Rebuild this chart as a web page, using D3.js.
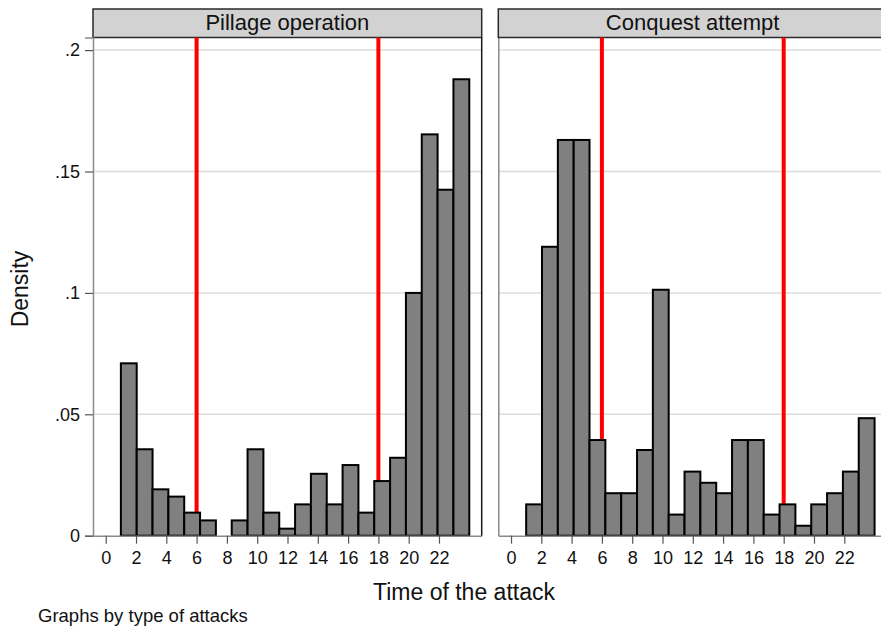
<!DOCTYPE html>
<html>
<head>
<meta charset="utf-8">
<script src="https://cdn.jsdelivr.net/npm/d3@7"></script>
<style>
  body { margin: 0; background: #fff; }
  svg { display: block; font-family: "Liberation Sans", Arial, sans-serif; }
</style>
</head>
<body>
<svg id="chart"></svg>
<script>
// histogram bins: 22 bins starting at hour 1
const binStart = 1;
const binWidth = 23 / 22;

const panelTitles = ["Pillage operation", "Conquest attempt"];

const pillageDensity = [0.0710, 0.0356, 0.0191, 0.0161, 0.0095, 0.0063, 0, 0.0063, 0.0356, 0.0095, 0.0029,
                        0.0129, 0.0255, 0.0129, 0.0291, 0.0095, 0.0225, 0.0321, 0.1000, 0.1653, 0.1425, 0.1880];
const conquestDensity = [0.0129, 0.1190, 0.1630, 0.1630, 0.0394, 0.0175, 0.0175, 0.0353, 0.1013, 0.0087, 0.0264,
                         0.0218, 0.0175, 0.0394, 0.0394, 0.0087, 0.0129, 0.0041, 0.0129, 0.0175, 0.0264, 0.0484];

const cutoffHours = [6, 18];
const xTicks = [0, 2, 4, 6, 8, 10, 12, 14, 16, 18, 20, 22];
const yTicks = [0, 0.05, 0.1, 0.15, 0.2];

const xTitle = "Time of the attack";
const yTitle = "Density";
const note = "Graphs by type of attacks";

class HistPanel {

  constructor(_config, _data) {
    this.config = {
      parentElement: _config.parentElement,
      left: _config.left,
      top: _config.top || 37.5,
      width: _config.width || 388.7,
      height: _config.height || 498.2,
      title: _config.title,
      showYLabels: _config.showYLabels
    }
    this.data = _data;
    this.initVis();
  }

  initVis() {
    let vis = this;
    let cfg = vis.config;

    vis.g = cfg.parentElement.append('g')
        .attr('transform', `translate(${cfg.left},${cfg.top})`);

    vis.xScale = d3.scaleLinear()
        .domain([-0.84, 24.82])
        .range([0, cfg.width]);

    vis.yScale = d3.scaleLinear()
        .domain([0, 0.2052])
        .range([cfg.height, 0]);

    // header strip
    vis.g.append('rect')
        .attr('x', 0)
        .attr('y', -28.5)
        .attr('width', cfg.width)
        .attr('height', 28.5)
        .attr('fill', '#d2d2d2')
        .attr('stroke', '#2a2a2a')
        .attr('stroke-width', 1.5);

    vis.g.append('text')
        .attr('x', cfg.width / 2)
        .attr('y', -8)
        .attr('text-anchor', 'middle')
        .style('font-size', '22px')
        .attr('fill', '#111')
        .text(cfg.title);

    // gridlines
    vis.g.selectAll('.grid')
        .data(yTicks.filter(d => d > 0))
        .join('line')
          .attr('class', 'grid')
          .attr('x1', 0)
          .attr('x2', cfg.width)
          .attr('y1', d => vis.yScale(d))
          .attr('y2', d => vis.yScale(d))
          .attr('stroke', '#dcdcdc')
          .attr('stroke-width', 1.5);

    // red reference lines (behind bars)
    vis.g.selectAll('.cutoff')
        .data(cutoffHours)
        .join('line')
          .attr('class', 'cutoff')
          .attr('x1', d => vis.xScale(d))
          .attr('x2', d => vis.xScale(d))
          .attr('y1', 0)
          .attr('y2', cfg.height)
          .attr('stroke', '#ff0000')
          .attr('stroke-width', 4);

    vis.updateVis();
  }

  updateVis() {
    let vis = this;
    let cfg = vis.config;

    vis.g.selectAll('.bar')
        .data(vis.data.filter(d => d.density > 0))
        .join('rect')
          .attr('class', 'bar')
          .attr('x', d => vis.xScale(d.x0))
          .attr('y', d => vis.yScale(d.density))
          .attr('width', d => vis.xScale(d.x1) - vis.xScale(d.x0))
          .attr('height', d => cfg.height - vis.yScale(d.density))
          .attr('fill', '#808080')
          .attr('stroke', '#000')
          .attr('stroke-width', 2);

    // x axis
    let xAxisG = vis.g.append('g')
        .attr('transform', `translate(0,${cfg.height})`)
        .call(d3.axisBottom(vis.xScale).tickValues(xTicks).tickSize(8).tickPadding(8).tickSizeOuter(0));
    xAxisG.select('.domain').attr('stroke', '#8a8a8a').attr('stroke-width', 1.5);
    xAxisG.selectAll('.tick line').attr('stroke', '#555').attr('stroke-width', 1.2);
    xAxisG.selectAll('.tick text')
        .style('font-size', '18px')
        .style('font-family', '"Liberation Sans", Arial, sans-serif')
        .attr('fill', '#111');

    // y axis
    let yAxis = d3.axisLeft(vis.yScale).tickValues(yTicks).tickSizeOuter(0)
        .tickFormat(d => d === 0 ? '0' : d3.format('.2~f')(d).replace(/^0/, ''));
    if (cfg.showYLabels) {
      yAxis.tickSize(8).tickPadding(5);
    } else {
      yAxis.tickSize(0).tickFormat('');
    }
    let yAxisG = vis.g.append('g').call(yAxis);
    yAxisG.select('.domain').attr('stroke', '#8a8a8a').attr('stroke-width', 1.5);
    yAxisG.selectAll('.tick line').attr('stroke', '#555').attr('stroke-width', 1.2);
    yAxisG.selectAll('.tick text')
        .style('font-size', '18px')
        .style('font-family', '"Liberation Sans", Arial, sans-serif')
        .attr('fill', '#111');

    // right border of the plot region
    vis.g.append('line')
        .attr('x1', cfg.width)
        .attr('x2', cfg.width)
        .attr('y1', 0)
        .attr('y2', cfg.height)
        .attr('stroke', '#1a1a1a')
        .attr('stroke-width', 1.5);
  }
}

const svg = d3.select('#chart')
    .attr('width', 881)
    .attr('height', 627);

function toBins(values) {
  return values.map((v, i) => ({
    x0: binStart + i * binWidth,
    x1: binStart + (i + 1) * binWidth,
    density: v
  }));
}

new HistPanel({ parentElement: svg, left: 93, title: panelTitles[0], showYLabels: true }, toBins(pillageDensity));
new HistPanel({ parentElement: svg, left: 498.3, title: panelTitles[1], showYLabels: false }, toBins(conquestDensity));

// axis titles
svg.append('text')
    .attr('x', 464)
    .attr('y', 600)
    .attr('text-anchor', 'middle')
    .style('font-size', '23px')
    .attr('fill', '#111')
    .text(xTitle);

svg.append('text')
    .attr('transform', 'translate(28,289) rotate(-90)')
    .attr('text-anchor', 'middle')
    .style('font-size', '23px')
    .attr('fill', '#111')
    .text(yTitle);

svg.append('text')
    .attr('x', 38)
    .attr('y', 622)
    .style('font-size', '18.5px')
    .attr('fill', '#111')
    .text(note);
</script>
</body>
</html>
